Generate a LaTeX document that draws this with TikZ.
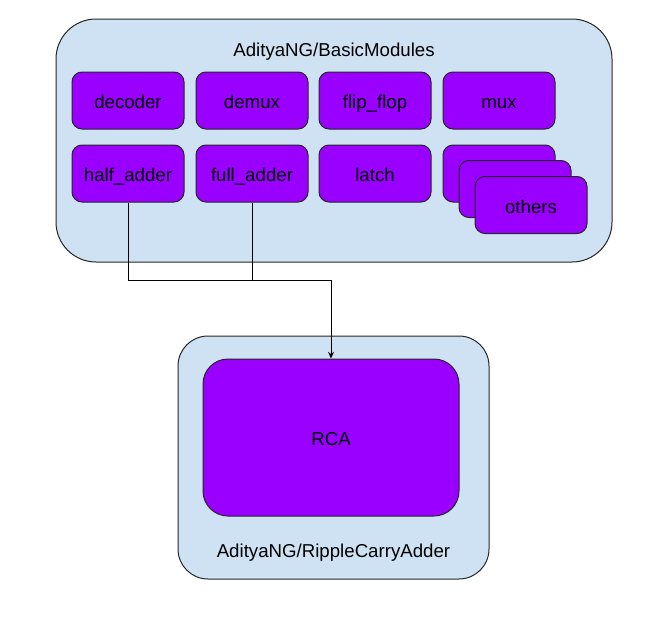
\documentclass[tikz,border=0pt]{standalone}
\usepackage{fontspec}
\setmainfont{Liberation Sans}
\usetikzlibrary{arrows.meta}
\definecolor{repoblue}{HTML}{CFE2F3}
\definecolor{modpurple}{HTML}{9900FF}
\tikzset{
repo/.style={draw=black!85, fill=repoblue, line width=0.75pt, inner sep=0pt},
module/.style={draw=black!85, fill=modpurple, line width=0.75pt, inner sep=0pt,
text height=15pt, text depth=2.7pt,
minimum width=84pt, minimum height=42.75pt, rounded corners=7.5pt},
label/.style={inner sep=0pt, text height=15pt, text depth=2.7pt}
}
\begin{document}
\begin{tikzpicture}[x=0.75pt, y=-0.75pt, font=\fontsize{14}{17}\selectfont]
\useasboundingbox (0,0) rectangle (657,625);
% upper repository
\node[repo, minimum width=417pt, minimum height=182.25pt, rounded corners=30pt] (basic) at (334,140.5) {};
\node[label] (basictitle) at (334,48) {AdityaNG/BasicModules};
\node[module] (decoder) at (128,100.5) {decoder};
\node[module] (demux) at (252,100.5) {demux};
\node[module] (flipflop) at (375,100.5) {flip\_flop};
\node[module] (mux) at (499,100.5) {mux};
\node[module] (half) at (128,173.5) {half\_adder};
\node[module] (full) at (252,173.5) {full\_adder};
\node[module] (latch) at (375,173.5) {latch};
\node[module] (othersback) at (499,173.5) {};
\node[module] (othersmid) at (515,189) {};
\node[module] (others) at (531,205) {others};
% lower repository
\node[repo, minimum width=233.25pt, minimum height=182.25pt, rounded corners=22.5pt] (ripple) at (333.5,457.5) {};
\node[module, minimum width=192pt, minimum height=117.75pt, rounded corners=18.75pt] (rca) at (331,437.5) {RCA};
\node[label] (rippletitle) at (333.5,549) {AdityaNG/RippleCarryAdder};
% connectors
\coordinate (bus) at (331,280);
\draw[line width=0.75pt] (half.south) |- (bus);
\draw[line width=0.75pt] (full.south) |- (bus);
\draw[line width=0.75pt, -{Stealth[length=5pt, width=4.5pt]}] (bus) -- (rca.north);
\end{tikzpicture}
\end{document}
